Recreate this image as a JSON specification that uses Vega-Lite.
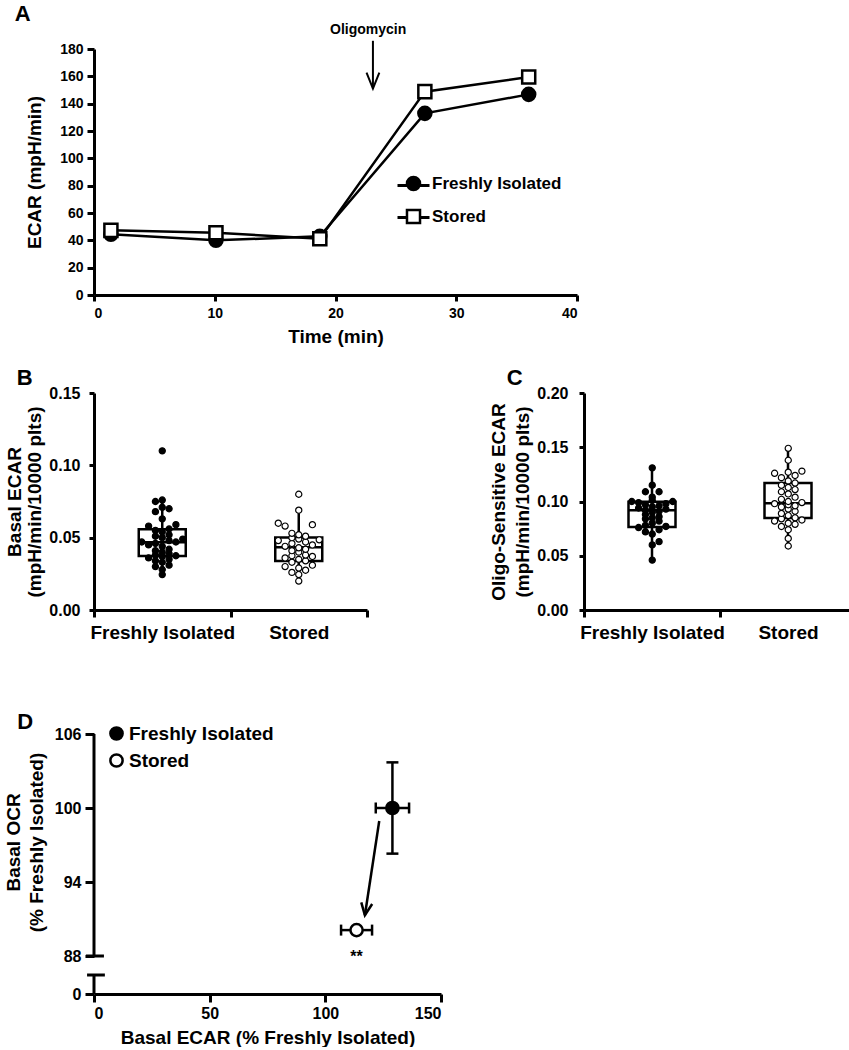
{
  "$schema": "https://vega.github.io/schema/vega-lite/v6.json",
  "background": "white",
  "padding": {"left": 4, "top": 3, "right": 0, "bottom": 0},
  "config": {
    "view": {"stroke": null},
    "font": "Liberation Sans",
    "axis": {"grid": false, "labelOverlap": false, "domainColor": "black", "domainWidth": 3, "tickColor": "black", "tickWidth": 3, "labelColor": "black", "labelFont": "Liberation Sans", "labelFontWeight": "bold", "titleFont": "Liberation Sans", "titleFontWeight": "bold", "titleColor": "black"},
    "title": {"font": "Liberation Sans", "fontWeight": "bold", "color": "black", "fontSize": 22, "anchor": "start", "frame": "bounds"},
    "text": {"font": "Liberation Sans", "fontWeight": "bold", "color": "black"}
  },
  "datasets": {
    "ecar_time": [
      {"group": "Freshly Isolated", "series": "Freshly Isolated", "time": 1.4, "ecar": 44.4},
      {"group": "Freshly Isolated", "series": "Freshly Isolated", "time": 10.1, "ecar": 40.0},
      {"group": "Freshly Isolated", "series": "Freshly Isolated", "time": 18.7, "ecar": 42.9},
      {"group": "Freshly Isolated", "series": "Freshly Isolated", "time": 27.4, "ecar": 132.9},
      {"group": "Freshly Isolated", "series": "Freshly Isolated", "time": 36.0, "ecar": 146.8},
      {"group": "Stored", "series": "Stored", "time": 1.4, "ecar": 47.3},
      {"group": "Stored", "series": "Stored", "time": 10.1, "ecar": 45.6},
      {"group": "Stored", "series": "Stored", "time": 18.7, "ecar": 41.2},
      {"group": "Stored", "series": "Stored", "time": 27.4, "ecar": 148.8},
      {"group": "Stored", "series": "Stored", "time": 36.0, "ecar": 159.5}
    ],
    "a_notes": [{"time": 22.7, "ecar": 194, "label": "Oligomycin"}],
    "a_arrow": [{"time": 23.1, "ecar": 186, "ecar2": 151}],
    "a_letter": [{"time": -5.9, "ecar": 205.6, "label": "A"}],
    "basal": [
      {"group": "Freshly Isolated", "value": 0.0245, "slot": 0},
      {"group": "Freshly Isolated", "value": 0.028, "slot": 0},
      {"group": "Freshly Isolated", "value": 0.030, "slot": -1},
      {"group": "Freshly Isolated", "value": 0.031, "slot": 1},
      {"group": "Freshly Isolated", "value": 0.033, "slot": 0},
      {"group": "Freshly Isolated", "value": 0.034, "slot": -1},
      {"group": "Freshly Isolated", "value": 0.035, "slot": 1},
      {"group": "Freshly Isolated", "value": 0.036, "slot": -2},
      {"group": "Freshly Isolated", "value": 0.037, "slot": 0},
      {"group": "Freshly Isolated", "value": 0.0375, "slot": 2},
      {"group": "Freshly Isolated", "value": 0.038, "slot": -1},
      {"group": "Freshly Isolated", "value": 0.039, "slot": 1},
      {"group": "Freshly Isolated", "value": 0.040, "slot": 0},
      {"group": "Freshly Isolated", "value": 0.041, "slot": -1},
      {"group": "Freshly Isolated", "value": 0.042, "slot": 1},
      {"group": "Freshly Isolated", "value": 0.044, "slot": 0},
      {"group": "Freshly Isolated", "value": 0.045, "slot": -2},
      {"group": "Freshly Isolated", "value": 0.046, "slot": -1},
      {"group": "Freshly Isolated", "value": 0.047, "slot": 2},
      {"group": "Freshly Isolated", "value": 0.047, "slot": -3},
      {"group": "Freshly Isolated", "value": 0.048, "slot": 1},
      {"group": "Freshly Isolated", "value": 0.049, "slot": 3},
      {"group": "Freshly Isolated", "value": 0.050, "slot": 0},
      {"group": "Freshly Isolated", "value": 0.051, "slot": -1},
      {"group": "Freshly Isolated", "value": 0.052, "slot": 1},
      {"group": "Freshly Isolated", "value": 0.054, "slot": 0},
      {"group": "Freshly Isolated", "value": 0.055, "slot": -1},
      {"group": "Freshly Isolated", "value": 0.056, "slot": 1},
      {"group": "Freshly Isolated", "value": 0.058, "slot": -2},
      {"group": "Freshly Isolated", "value": 0.059, "slot": 2},
      {"group": "Freshly Isolated", "value": 0.063, "slot": 0},
      {"group": "Freshly Isolated", "value": 0.068, "slot": -1},
      {"group": "Freshly Isolated", "value": 0.070, "slot": 1},
      {"group": "Freshly Isolated", "value": 0.071, "slot": 0},
      {"group": "Freshly Isolated", "value": 0.075, "slot": -1},
      {"group": "Freshly Isolated", "value": 0.076, "slot": 0},
      {"group": "Freshly Isolated", "value": 0.110, "slot": 0},
      {"group": "Stored", "value": 0.020, "slot": 0},
      {"group": "Stored", "value": 0.0245, "slot": 0},
      {"group": "Stored", "value": 0.026, "slot": -1},
      {"group": "Stored", "value": 0.0275, "slot": 1},
      {"group": "Stored", "value": 0.029, "slot": 0},
      {"group": "Stored", "value": 0.030, "slot": -2},
      {"group": "Stored", "value": 0.031, "slot": 2},
      {"group": "Stored", "value": 0.033, "slot": -1},
      {"group": "Stored", "value": 0.034, "slot": 1},
      {"group": "Stored", "value": 0.035, "slot": 0},
      {"group": "Stored", "value": 0.036, "slot": -2},
      {"group": "Stored", "value": 0.037, "slot": 2},
      {"group": "Stored", "value": 0.0375, "slot": -1},
      {"group": "Stored", "value": 0.038, "slot": 1},
      {"group": "Stored", "value": 0.040, "slot": 0},
      {"group": "Stored", "value": 0.041, "slot": -1},
      {"group": "Stored", "value": 0.042, "slot": 1},
      {"group": "Stored", "value": 0.043, "slot": 0},
      {"group": "Stored", "value": 0.044, "slot": -2},
      {"group": "Stored", "value": 0.045, "slot": 2},
      {"group": "Stored", "value": 0.046, "slot": -1},
      {"group": "Stored", "value": 0.047, "slot": 1},
      {"group": "Stored", "value": 0.048, "slot": -3},
      {"group": "Stored", "value": 0.0485, "slot": 3},
      {"group": "Stored", "value": 0.049, "slot": 0},
      {"group": "Stored", "value": 0.050, "slot": -1},
      {"group": "Stored", "value": 0.051, "slot": 1},
      {"group": "Stored", "value": 0.052, "slot": 0},
      {"group": "Stored", "value": 0.053, "slot": -1},
      {"group": "Stored", "value": 0.058, "slot": -2},
      {"group": "Stored", "value": 0.059, "slot": 2},
      {"group": "Stored", "value": 0.060, "slot": -3},
      {"group": "Stored", "value": 0.069, "slot": 0},
      {"group": "Stored", "value": 0.080, "slot": 0}
    ],
    "oligo": [
      {"group": "Freshly Isolated", "value": 0.046, "slot": 0},
      {"group": "Freshly Isolated", "value": 0.060, "slot": 0},
      {"group": "Freshly Isolated", "value": 0.063, "slot": 1},
      {"group": "Freshly Isolated", "value": 0.070, "slot": 0},
      {"group": "Freshly Isolated", "value": 0.072, "slot": -1},
      {"group": "Freshly Isolated", "value": 0.074, "slot": 1},
      {"group": "Freshly Isolated", "value": 0.076, "slot": -2},
      {"group": "Freshly Isolated", "value": 0.077, "slot": 2},
      {"group": "Freshly Isolated", "value": 0.078, "slot": -1},
      {"group": "Freshly Isolated", "value": 0.080, "slot": 0},
      {"group": "Freshly Isolated", "value": 0.082, "slot": 1},
      {"group": "Freshly Isolated", "value": 0.084, "slot": -1},
      {"group": "Freshly Isolated", "value": 0.085, "slot": 0},
      {"group": "Freshly Isolated", "value": 0.086, "slot": 1},
      {"group": "Freshly Isolated", "value": 0.088, "slot": -1},
      {"group": "Freshly Isolated", "value": 0.090, "slot": 0},
      {"group": "Freshly Isolated", "value": 0.091, "slot": 1},
      {"group": "Freshly Isolated", "value": 0.092, "slot": -1},
      {"group": "Freshly Isolated", "value": 0.093, "slot": 2},
      {"group": "Freshly Isolated", "value": 0.094, "slot": -2},
      {"group": "Freshly Isolated", "value": 0.095, "slot": 0},
      {"group": "Freshly Isolated", "value": 0.096, "slot": 1},
      {"group": "Freshly Isolated", "value": 0.097, "slot": -1},
      {"group": "Freshly Isolated", "value": 0.098, "slot": 2},
      {"group": "Freshly Isolated", "value": 0.099, "slot": -2},
      {"group": "Freshly Isolated", "value": 0.100, "slot": 3},
      {"group": "Freshly Isolated", "value": 0.100, "slot": -3},
      {"group": "Freshly Isolated", "value": 0.101, "slot": 0},
      {"group": "Freshly Isolated", "value": 0.104, "slot": 0},
      {"group": "Freshly Isolated", "value": 0.109, "slot": -1},
      {"group": "Freshly Isolated", "value": 0.109, "slot": 1},
      {"group": "Freshly Isolated", "value": 0.115, "slot": 0},
      {"group": "Freshly Isolated", "value": 0.131, "slot": 0},
      {"group": "Stored", "value": 0.059, "slot": 0},
      {"group": "Stored", "value": 0.066, "slot": 0},
      {"group": "Stored", "value": 0.074, "slot": 0},
      {"group": "Stored", "value": 0.077, "slot": -1},
      {"group": "Stored", "value": 0.079, "slot": 1},
      {"group": "Stored", "value": 0.080, "slot": 0},
      {"group": "Stored", "value": 0.082, "slot": -2},
      {"group": "Stored", "value": 0.083, "slot": 2},
      {"group": "Stored", "value": 0.084, "slot": -1},
      {"group": "Stored", "value": 0.085, "slot": 1},
      {"group": "Stored", "value": 0.087, "slot": 0},
      {"group": "Stored", "value": 0.089, "slot": -1},
      {"group": "Stored", "value": 0.091, "slot": 1},
      {"group": "Stored", "value": 0.093, "slot": 0},
      {"group": "Stored", "value": 0.095, "slot": -1},
      {"group": "Stored", "value": 0.096, "slot": 1},
      {"group": "Stored", "value": 0.097, "slot": 0},
      {"group": "Stored", "value": 0.098, "slot": -2},
      {"group": "Stored", "value": 0.099, "slot": 2},
      {"group": "Stored", "value": 0.100, "slot": 0},
      {"group": "Stored", "value": 0.102, "slot": -1},
      {"group": "Stored", "value": 0.104, "slot": 1},
      {"group": "Stored", "value": 0.107, "slot": 0},
      {"group": "Stored", "value": 0.109, "slot": -1},
      {"group": "Stored", "value": 0.111, "slot": 1},
      {"group": "Stored", "value": 0.113, "slot": 0},
      {"group": "Stored", "value": 0.115, "slot": -1},
      {"group": "Stored", "value": 0.117, "slot": 1},
      {"group": "Stored", "value": 0.119, "slot": 0},
      {"group": "Stored", "value": 0.122, "slot": -1},
      {"group": "Stored", "value": 0.124, "slot": 1},
      {"group": "Stored", "value": 0.126, "slot": -2},
      {"group": "Stored", "value": 0.127, "slot": 0},
      {"group": "Stored", "value": 0.128, "slot": 2},
      {"group": "Stored", "value": 0.138, "slot": 0},
      {"group": "Stored", "value": 0.149, "slot": 0}
    ],
    "box_basal": [
      {"group": "Freshly Isolated", "lo": 0.0242, "q1": 0.0374, "med": 0.0469, "q3": 0.0559, "hi": 0.0762},
      {"group": "Stored", "lo": 0.0196, "q1": 0.0339, "med": 0.0434, "q3": 0.0501, "hi": 0.0692}
    ],
    "box_oligo": [
      {"group": "Freshly Isolated", "lo": 0.046, "q1": 0.0765, "med": 0.0919, "q3": 0.0998, "hi": 0.131},
      {"group": "Stored", "lo": 0.059, "q1": 0.0848, "med": 0.0983, "q3": 0.117, "hi": 0.149}
    ],
    "ocr": [
      {"group": "Freshly Isolated", "ecar": 129.0, "ecar_lo": 121.8, "ecar_hi": 136.2, "ocr": 100.0, "ocr_lo": 96.3, "ocr_hi": 103.7},
      {"group": "Stored", "ecar": 113.5, "ecar_lo": 106.8, "ecar_hi": 120.2, "ocr": 90.1, "ocr_lo": null, "ocr_hi": null}
    ],
    "d_axis": [
      {"ecar": 0, "ecar2": 0, "ocr": 88, "ocr2": 106},
      {"ecar": 0, "ecar2": 0, "ocr": 0, "ocr2": 44},
      {"ecar": -3.5, "ecar2": 4.3, "ocr": 88, "ocr2": 88},
      {"ecar": -3.0, "ecar2": 4.7, "ocr": 44, "ocr2": 44}
    ],
    "d_arrow": [{"ecar": 123.3, "ocr": 98.95, "ecar2": 117.1, "ocr2": 91.3}],
    "d_text": [
      {"ecar": 113.5, "ocr": 85.7, "label": "**", "kind": "star"},
      {"ecar": -29.8, "ocr": 107.0, "label": "D", "kind": "letter"}
    ]
  },
  "resolve": {"scale": {"fill": "independent", "shape": "independent", "stroke": "independent"}},
  "spacing": 68,
  "vconcat": [
    {
      "resolve": {"scale": {"fill": "independent", "shape": "independent", "stroke": "independent"}},
      "spacing": 21,
      "vconcat": [
        {
          "width": 483,
          "height": 246,
          "layer": [
            {
              "data": {"name": "ecar_time"},
              "mark": {"type": "line", "strokeWidth": 2.5},
              "encoding": {
                "x": {"field": "time", "type": "quantitative", "scale": {"domain": [0, 40], "nice": false},
                  "axis": {"values": [0, 10, 20, 30, 40], "title": "Time (min)", "titleFontSize": 19, "labelFontSize": 14, "tickSize": 6, "labelPadding": 5, "titlePadding": 7}},
                "y": {"field": "ecar", "type": "quantitative", "scale": {"domain": [0, 180], "nice": false},
                  "axis": {"values": [0, 20, 40, 60, 80, 100, 120, 140, 160, 180], "tickCount": 10, "labelOverlap": false, "title": "ECAR (mpH/min)", "titleFontSize": 19, "labelFontSize": 14, "tickSize": 7, "labelPadding": 4, "titlePadding": 15}},
                "stroke": {"field": "series", "type": "nominal", "scale": {"domain": ["Stored", "Freshly Isolated"], "range": ["black", "black"]},
                  "legend": {"title": null, "orient": "none", "legendX": 302, "legendY": 119, "padding": 0, "symbolType": "stroke", "symbolSize": 1024, "symbolStrokeWidth": 3, "labelFontSize": 17, "labelFont": "Liberation Sans", "labelFontWeight": "bold", "labelExpr": "''", "rowPadding": 6}}
              }
            },
            {
              "data": {"name": "ecar_time"},
              "mark": {"type": "point", "filled": true, "stroke": "black", "strokeWidth": 2.5, "size": 170, "opacity": 1},
              "encoding": {
                "x": {"field": "time", "type": "quantitative"},
                "y": {"field": "ecar", "type": "quantitative"},
                "shape": {"field": "group", "type": "nominal", "scale": {"domain": ["Freshly Isolated", "Stored"], "range": ["circle", "square"]},
                  "legend": {"title": null, "orient": "none", "legendX": 311, "legendY": 126, "padding": 0, "symbolSize": 170, "symbolStrokeWidth": 2.5, "labelFontSize": 17, "labelFont": "Liberation Sans", "labelFontWeight": "bold", "labelColor": "black", "labelOffset": 10, "rowPadding": 8}},
                "fill": {"field": "group", "type": "nominal", "scale": {"domain": ["Freshly Isolated", "Stored"], "range": ["black", "white"]},
                  "legend": {"title": null, "orient": "none", "legendX": 311, "legendY": 126, "padding": 0, "symbolSize": 170, "symbolStrokeWidth": 2.5, "labelFontSize": 17, "labelFont": "Liberation Sans", "labelFontWeight": "bold", "labelColor": "black", "labelOffset": 10, "rowPadding": 8}}
              }
            },
            {
              "data": {"name": "a_notes"},
              "mark": {"type": "text", "fontSize": 14, "fontWeight": "bold", "align": "center", "baseline": "middle"},
              "encoding": {"x": {"field": "time", "type": "quantitative"}, "y": {"field": "ecar", "type": "quantitative"}, "text": {"field": "label"}}
            },
            {
              "data": {"name": "a_arrow"},
              "mark": {"type": "rule", "color": "black", "strokeWidth": 2},
              "encoding": {"x": {"field": "time", "type": "quantitative"}, "y": {"field": "ecar", "type": "quantitative"}, "y2": {"field": "ecar2"}}
            },
            {
              "data": {"name": "a_arrow"},
              "mark": {"type": "point", "shape": "M-0.4,-1L0,0L0.4,-1", "filled": false, "color": "black", "strokeWidth": 2, "size": 1024, "opacity": 1},
              "encoding": {"x": {"field": "time", "type": "quantitative"}, "y": {"field": "ecar2", "type": "quantitative"}}
            },
            {
              "data": {"name": "a_letter"},
              "mark": {"type": "text", "fontSize": 22, "fontWeight": "bold", "align": "center", "baseline": "middle"},
              "encoding": {"x": {"field": "time", "type": "quantitative"}, "y": {"field": "ecar", "type": "quantitative"}, "text": {"field": "label"}}
            }
          ]
        },
        {
          "resolve": {"scale": {"fill": "independent", "shape": "independent", "stroke": "independent"}},
          "spacing": 120,
          "hconcat": [
            {
              "width": 273,
              "height": 217,
              "title": {"text": "B", "dx": 11, "offset": -5},
              "layer": [
                {
                  "data": {"name": "box_basal"},
                  "mark": {"type": "rule", "color": "black", "strokeWidth": 2.5},
                  "encoding": {
                    "x": {"field": "group", "type": "nominal", "scale": {"domain": ["Freshly Isolated", "Stored"], "paddingInner": 0, "paddingOuter": 0},
                      "axis": {"title": null, "labelAngle": 0, "tickBand": "extent", "labelFontSize": 19, "tickSize": 7, "labelPadding": 6}},
                    "y": {"field": "lo", "type": "quantitative", "scale": {"domain": [0, 0.15], "nice": false},
                      "axis": {"values": [0, 0.05, 0.1, 0.15], "format": ".2f", "title": ["Basal ECAR", "(mpH/min/10000 plts)"], "titleFontSize": 19, "titleLineHeight": 20, "labelFontSize": 16, "tickSize": 5, "labelPadding": 9, "titlePadding": 4}},
                    "y2": {"field": "hi"}
                  }
                },
                {
                  "data": {"name": "box_basal"},
                  "mark": {"type": "bar", "fill": "white", "stroke": "black", "strokeWidth": 2.5, "size": 47, "opacity": 1},
                  "encoding": {"x": {"field": "group", "type": "nominal"}, "y": {"field": "q1", "type": "quantitative"}, "y2": {"field": "q3"}}
                },
                {
                  "data": {"name": "box_basal"},
                  "mark": {"type": "tick", "color": "black", "size": 47, "thickness": 2.5, "opacity": 1},
                  "encoding": {"x": {"field": "group", "type": "nominal"}, "y": {"field": "med", "type": "quantitative"}}
                },
                {
                  "data": {"name": "basal"},
                  "mark": {"type": "point", "shape": "circle", "filled": true, "stroke": "black", "strokeWidth": 1.2, "size": 38, "opacity": 1},
                  "encoding": {
                    "x": {"field": "group", "type": "nominal"},
                    "xOffset": {"field": "slot", "type": "quantitative", "scale": {"domain": [-10, 10]}},
                    "y": {"field": "value", "type": "quantitative"},
                    "fill": {"field": "group", "type": "nominal", "scale": {"domain": ["Freshly Isolated", "Stored"], "range": ["black", "white"]}, "legend": null}
                  }
                }
              ]
            },
            {
              "width": 272,
              "height": 217,
              "title": {"text": "C", "dx": 17, "offset": -5},
              "layer": [
                {
                  "data": {"name": "box_oligo"},
                  "mark": {"type": "rule", "color": "black", "strokeWidth": 2.5},
                  "encoding": {
                    "x": {"field": "group", "type": "nominal", "scale": {"domain": ["Freshly Isolated", "Stored"], "paddingInner": 0, "paddingOuter": 0},
                      "axis": {"title": null, "labelAngle": 0, "tickBand": "extent", "labelFontSize": 19, "tickSize": 7, "labelPadding": 6}},
                    "y": {"field": "lo", "type": "quantitative", "scale": {"domain": [0, 0.2], "nice": false},
                      "axis": {"values": [0, 0.05, 0.1, 0.15, 0.2], "format": ".2f", "title": ["Oligo-Sensitive ECAR", "(mpH/min/10000 plts)"], "titleFontSize": 19, "titleLineHeight": 24, "labelFontSize": 16, "tickSize": 5, "labelPadding": 11, "titlePadding": 4}},
                    "y2": {"field": "hi"}
                  }
                },
                {
                  "data": {"name": "box_oligo"},
                  "mark": {"type": "bar", "fill": "white", "stroke": "black", "strokeWidth": 2.5, "size": 47, "opacity": 1},
                  "encoding": {"x": {"field": "group", "type": "nominal"}, "y": {"field": "q1", "type": "quantitative"}, "y2": {"field": "q3"}}
                },
                {
                  "data": {"name": "box_oligo"},
                  "mark": {"type": "tick", "color": "black", "size": 47, "thickness": 2.5, "opacity": 1},
                  "encoding": {"x": {"field": "group", "type": "nominal"}, "y": {"field": "med", "type": "quantitative"}}
                },
                {
                  "data": {"name": "oligo"},
                  "mark": {"type": "point", "shape": "circle", "filled": true, "stroke": "black", "strokeWidth": 1.2, "size": 38, "opacity": 1},
                  "encoding": {
                    "x": {"field": "group", "type": "nominal"},
                    "xOffset": {"field": "slot", "type": "quantitative", "scale": {"domain": [-10, 10]}},
                    "y": {"field": "value", "type": "quantitative"},
                    "fill": {"field": "group", "type": "nominal", "scale": {"domain": ["Freshly Isolated", "Stored"], "range": ["black", "white"]}, "legend": null}
                  }
                }
              ]
            }
          ]
        }
      ]
    },
    {
      "width": 347,
      "height": 260,
      "layer": [
        {
          "data": {"name": "d_axis"},
          "mark": {"type": "rule", "color": "black", "strokeWidth": 3},
          "encoding": {
            "x": {"field": "ecar", "type": "quantitative", "scale": {"domain": [0, 150], "nice": false},
              "axis": {"values": [0, 50, 100, 150], "title": "Basal ECAR (% Freshly Isolated)", "titleFontSize": 19, "labelFontSize": 16, "tickSize": 8, "labelPadding": 3, "titlePadding": 7}},
            "x2": {"field": "ecar2"},
            "y": {"field": "ocr", "type": "quantitative", "scale": {"type": "linear", "domain": [0, 88, 106], "range": [260, 222, 0], "nice": false, "zero": false},
              "axis": {"values": [0, 88, 94, 100, 106], "domain": false, "title": ["Basal  OCR", "(% Freshly Isolated)"], "titleFontSize": 19, "titleLineHeight": 23, "titleY": 108, "labelFontSize": 16, "tickSize": 9, "labelPadding": 4, "titlePadding": 8}},
            "y2": {"field": "ocr2"}
          }
        },
        {
          "data": {"name": "ocr"},
          "mark": {"type": "rule", "color": "black", "strokeWidth": 2.5},
          "encoding": {"x": {"field": "ecar_lo", "type": "quantitative"}, "x2": {"field": "ecar_hi"}, "y": {"field": "ocr", "type": "quantitative"}}
        },
        {
          "data": {"name": "ocr"},
          "mark": {"type": "tick", "orient": "vertical", "color": "black", "size": 11, "thickness": 2.5, "opacity": 1},
          "encoding": {"x": {"field": "ecar_lo", "type": "quantitative"}, "y": {"field": "ocr", "type": "quantitative"}}
        },
        {
          "data": {"name": "ocr"},
          "mark": {"type": "tick", "orient": "vertical", "color": "black", "size": 11, "thickness": 2.5, "opacity": 1},
          "encoding": {"x": {"field": "ecar_hi", "type": "quantitative"}, "y": {"field": "ocr", "type": "quantitative"}}
        },
        {
          "data": {"name": "ocr"},
          "transform": [{"filter": "datum.ocr_lo != null"}],
          "mark": {"type": "rule", "color": "black", "strokeWidth": 2.5},
          "encoding": {"x": {"field": "ecar", "type": "quantitative"}, "y": {"field": "ocr_lo", "type": "quantitative"}, "y2": {"field": "ocr_hi"}}
        },
        {
          "data": {"name": "ocr"},
          "transform": [{"filter": "datum.ocr_lo != null"}],
          "mark": {"type": "tick", "orient": "horizontal", "color": "black", "size": 12, "thickness": 2.5, "opacity": 1},
          "encoding": {"x": {"field": "ecar", "type": "quantitative"}, "y": {"field": "ocr_lo", "type": "quantitative"}}
        },
        {
          "data": {"name": "ocr"},
          "transform": [{"filter": "datum.ocr_lo != null"}],
          "mark": {"type": "tick", "orient": "horizontal", "color": "black", "size": 12, "thickness": 2.5, "opacity": 1},
          "encoding": {"x": {"field": "ecar", "type": "quantitative"}, "y": {"field": "ocr_hi", "type": "quantitative"}}
        },
        {
          "data": {"name": "d_arrow"},
          "mark": {"type": "rule", "color": "black", "strokeWidth": 2.5},
          "encoding": {"x": {"field": "ecar", "type": "quantitative"}, "y": {"field": "ocr", "type": "quantitative"}, "x2": {"field": "ecar2"}, "y2": {"field": "ocr2"}}
        },
        {
          "data": {"name": "d_arrow"},
          "mark": {"type": "point", "shape": "M-0.45,-1L0,0L0.45,-1", "angle": 8.6, "filled": false, "stroke": "black", "strokeWidth": 2.5, "size": 600, "opacity": 1},
          "encoding": {"x": {"field": "ecar2", "type": "quantitative"}, "y": {"field": "ocr2", "type": "quantitative"}}
        },
        {
          "data": {"name": "ocr"},
          "mark": {"type": "point", "shape": "circle", "filled": true, "stroke": "black", "strokeWidth": 2.5, "size": 150, "opacity": 1},
          "encoding": {
            "x": {"field": "ecar", "type": "quantitative"},
            "y": {"field": "ocr", "type": "quantitative"},
            "fill": {"field": "group", "type": "nominal", "scale": {"domain": ["Freshly Isolated", "Stored"], "range": ["black", "white"]},
              "legend": {"title": null, "orient": "none", "legendX": 13, "legendY": -10, "padding": 0, "symbolType": "circle", "symbolSize": 150, "symbolStrokeWidth": 2.5, "symbolStrokeColor": "black", "labelFontSize": 19, "labelFont": "Liberation Sans", "labelFontWeight": "bold", "labelColor": "black", "labelOffset": 3, "rowPadding": 4}}
          }
        },
        {
          "data": {"name": "d_text"},
          "transform": [{"filter": "datum.kind === 'star'"}],
          "mark": {"type": "text", "fontSize": 16, "fontWeight": "bold", "align": "center", "baseline": "middle"},
          "encoding": {"x": {"field": "ecar", "type": "quantitative"}, "y": {"field": "ocr", "type": "quantitative"}, "text": {"field": "label"}}
        },
        {
          "data": {"name": "d_text"},
          "transform": [{"filter": "datum.kind === 'letter'"}],
          "mark": {"type": "text", "fontSize": 22, "fontWeight": "bold", "align": "center", "baseline": "middle"},
          "encoding": {"x": {"field": "ecar", "type": "quantitative"}, "y": {"field": "ocr", "type": "quantitative"}, "text": {"field": "label"}}
        }
      ]
    }
  ]
}
